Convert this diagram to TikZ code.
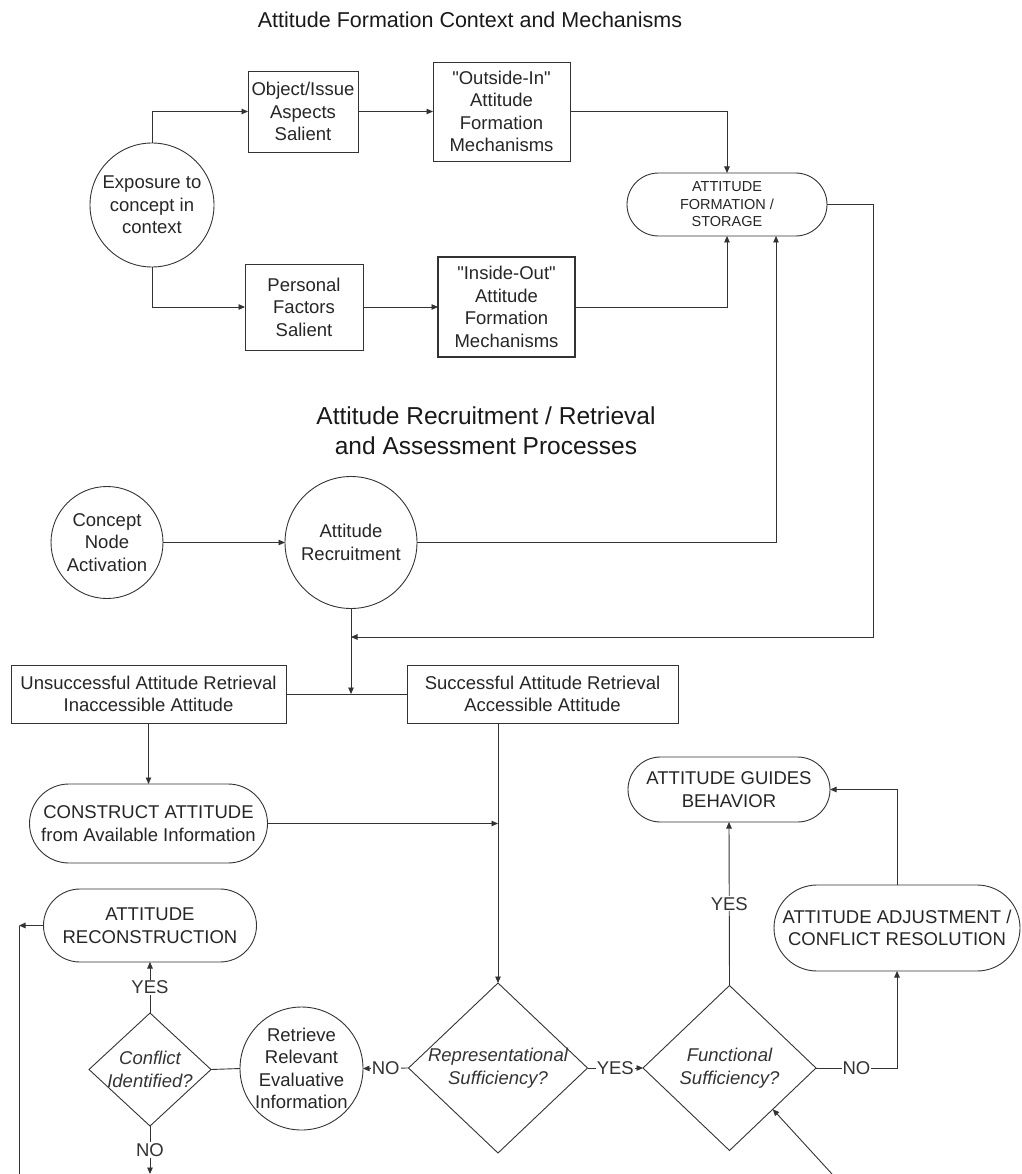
\documentclass[tikz,border=0pt]{standalone}
\usepackage{fontspec}
\setmainfont{Liberation Sans}[Ligatures=TeXOff]
\usetikzlibrary{arrows.meta,shapes.geometric,calc}
\newcommand\bodyfnt{\fontsize{18.5}{22.5}\selectfont}
\newcommand\smallfnt{\fontsize{14.5}{17.5}\selectfont}
\begin{document}
\begin{tikzpicture}[x=1pt,y=-1pt,
  ln/.style={line width=0.9pt, draw=black!80},
  arr/.style={ln, -{Triangle[length=6.5pt,width=5.5pt]}},
  box/.style={ln, rectangle, inner sep=0pt, outer sep=0pt, align=center, font=\bodyfnt, text=black!85},
  circ/.style={ln, circle, inner sep=0pt, outer sep=0pt, align=center, font=\bodyfnt, text=black!85},
  stad/.style={ln, rectangle, rounded corners=#1, inner sep=0pt, outer sep=0pt, align=center, font=\bodyfnt, text=black!85},
  dia/.style={ln, diamond, inner sep=0pt, outer sep=0pt},
  ditxt/.style={font=\bodyfnt\itshape, align=center, text=black!80, inner sep=0pt},
  lbl/.style={font=\bodyfnt, text=black!80, fill=white, inner sep=1pt},
  ttl/.style={align=center, text=black!90}
]
\useasboundingbox (0,0) rectangle (1021,1174);

% titles
\node[ttl, font=\fontsize{21.5}{26}\selectfont] (t1) at (470,20) {Attitude Formation Context and Mechanisms};
\node[ttl, font=\fontsize{24.5}{30}\selectfont] (t2) at (486,431) {Attitude Recruitment / Retrieval\\and Assessment Processes};

% top section
\node[circ, minimum size=124] (ex) at (152,205) {Exposure to\\concept in\\context};
\node[box, minimum width=110, minimum height=81] (obj) at (303,111.5) {Object/Issue\\Aspects\\Salient};
\node[box, minimum width=137, minimum height=99] (out) at (501.5,111.5) {"Outside-In"\\Attitude\\Formation\\Mechanisms};
\node[box, minimum width=118, minimum height=86] (pers) at (304,307) {Personal\\Factors\\Salient};
\node[box, line width=1.3pt, minimum width=137, minimum height=100] (ins) at (506.5,307) {"Inside-Out"\\Attitude\\Formation\\Mechanisms};
\node[stad=31.5, minimum width=200, minimum height=63, font=\smallfnt] (form) at (727,204.5) {ATTITUDE\\FORMATION /\\STORAGE};

\draw[arr] (ex.north) |- (obj.west);
\draw[arr] (obj.east) -- (out.west);
\draw[arr] (out.east) -| (form.north);
\draw[arr] (ex.south) |- (pers.west);
\draw[arr] (pers.east) -- (ins.west);
\draw[arr] (ins.east) -| (form.south);

% recruitment
\node[circ, minimum size=112] (cna) at (107,542.5) {Concept\\Node\\Activation};
\node[circ, minimum size=132] (rec) at (351,542.5) {Attitude\\Recruitment};
\coordinate (fin) at ([xshift=49pt]form.south);
\coordinate (fr) at (873,637);
\coordinate (fb) at (351,637);
\draw[arr] (cna.east) -- (rec.west);
\draw[arr] (rec.east) -| (fin);
\draw[arr] (form.east) -| (fr) -- (fb);

% retrieval boxes
\node[box, minimum width=275, minimum height=58] (uns) at (148.5,694) {Unsuccessful Attitude Retrieval\\Inaccessible Attitude};
\node[box, minimum width=271, minimum height=58] (suc) at (542.5,694) {Successful Attitude Retrieval\\Accessible Attitude};
\coordinate (jn) at (rec.south |- uns.east);
\draw[ln] (uns.east) -- (suc.west);
\draw[arr] (rec.south) -- (jn);

\node[stad=39.5, minimum width=238, minimum height=79] (con) at (148.5,823.5) {CONSTRUCT ATTITUDE\\from Available Information};
\draw[arr] (uns.south) -- (con.north);

% decisions
\node[dia, minimum width=179, minimum height=170] (rep) at (498,1068) {};
\node[ditxt] (reptxt) at (rep) {Representational\\Sufficiency?};
\node[dia, minimum width=173, minimum height=165] (fun) at (729.5,1068) {};
\node[ditxt] (funtxt) at (fun) {Functional\\Sufficiency?};
\node[dia, minimum width=122, minimum height=113] (cid) at (150,1069.5) {};
\node[ditxt] (cidtxt) at (cid) {Conflict\\Identified?};
\node[circ, minimum size=123] (ret) at (301.5,1068.5) {Retrieve\\Relevant\\Evaluative\\Information};

\draw[arr] (suc.south -| rep.north) -- (rep.north);
\draw[arr] (con.east) -- (con.east -| rep.north);

\node[stad=36.5, minimum width=213, minimum height=73] (rcn) at (150,925.5) {ATTITUDE\\RECONSTRUCTION};
\node[stad=32.5, minimum width=202, minimum height=65] (gui) at (729,789.5) {ATTITUDE GUIDES\\BEHAVIOR};
\node[stad=43, minimum width=246, minimum height=86] (adj) at (897,928) {ATTITUDE ADJUSTMENT /\\CONFLICT RESOLUTION};

\draw[arr] (rep.west) -- node[lbl] {NO} (ret.east);
\draw[ln] (cid.east) -- (ret.west);
\draw[arr] (cid.north) -- node[lbl] {YES} (rcn.south);
\coordinate (cno) at (150,1174);
\draw[arr] (cid.south) -- node[lbl] {NO} (cno);
\draw[arr] (rep.east) -- node[lbl] {YES} (fun.west);
\draw[arr] (fun.north) -- node[lbl] {YES} (gui.south);
\draw[arr] (fun.east) -| node[lbl, pos=0.25] {NO} (adj.south);
\draw[arr] (adj.north) |- (gui.east);
\coordinate (br) at (832,1174);
\draw[arr] (br) -- (fun.south east);

\coordinate (lc) at (19,925.5);
\coordinate (lb) at (19,1174);
\draw[arr] (rcn.west) -- (lc);
\draw[ln] (lc) -- (lb);
\end{tikzpicture}
\end{document}
